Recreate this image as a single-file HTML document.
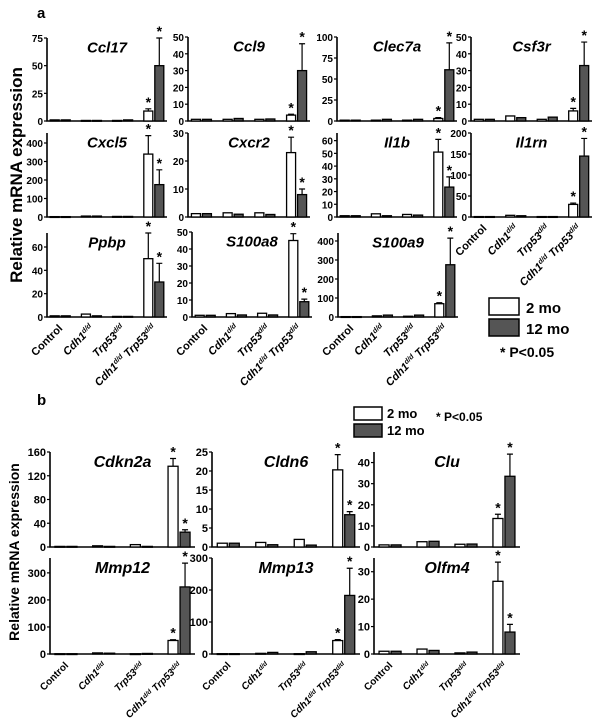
<!DOCTYPE html>
<html><head><meta charset="utf-8">
<style>
html,body{margin:0;padding:0;background:#fff;}
svg{display:block;font-family:"Liberation Sans",Arial,sans-serif;}
</style></head>
<body>
<svg id="fig" width="602" height="721" viewBox="0 0 602 721" xmlns="http://www.w3.org/2000/svg"></svg>
<script>
// ---- data ----
const groups = ["Control","Cdh1","Trp53","Cdh1 Trp53"];
const genesA = ["Ccl17","Ccl9","Clec7a","Csf3r","Cxcl5","Cxcr2","Il1b","Il1rn","Ppbp","S100a8","S100a9"];
const valsA2  = [[1,0.5,0.5,9],[1,1,1,3.5],[1,1,1,3],[1,3,1,6],[2,5,3,340],[1.2,1.5,1.5,23],[1,2.5,2,51],[1,4,1,30],[1,2.5,0.5,50],[1,2,2.2,45],[2,6,4,70]];
const valsA12 = [[1,0.5,1,50],[1,1.5,1.2,30],[1,2,2,61],[1,2,2.3,33],[2,5,3,175],[1.2,1,0.9,8],[1,1,1.5,23.5],[1,3,1,145],[1,1,0.5,30],[1,1.2,1.2,9],[2,10,10,275]];
const errA2  = [2,0.5,1,1.5,100,5.5,10,3,22,4,5];
const errA12 = [25,16,32,14,80,2,8,42,16,1.5,140];
const maxA   = [75,50,100,50,454,30,66,200,72,50,442];
const ticksA = [[0,25,50,75],[0,10,20,30,40,50],[0,25,50,75,100],[0,10,20,30,40,50],[0,100,200,300,400],[0,10,20,30],[0,10,20,30,40,50,60],[0,50,100,150,200],[0,20,40,60],[0,10,20,30,40,50],[0,100,200,300,400]];

const genesB = ["Cdkn2a","Cldn6","Clu","Mmp12","Mmp13","Olfm4"];
const valsB2  = [[1,2,4,136],[1,1.2,2,20.3],[1,2.5,1.3,13.5],[1,4,1,50],[1,2,1,42],[1,1.8,0.4,26.5]];
const valsB12 = [[1,1,1,25],[1,0.6,0.5,8.5],[1,2.7,1.4,33.5],[1,3,2,248],[1,5,7,183],[1,1.3,0.7,8]];
const errB2  = [13,4,2,3,3,7];
const errB12 = [4,0.8,10.5,88,85,2.8];
const maxB   = [160,25,45,355,300,35];
const ticksB = [[0,40,80,120,160],[0,5,10,15,20,25],[0,10,20,30,40],[0,100,200,300],[0,100,200,300],[0,10,20,30]];

// ---- geometry ----
const geomA = [[47,167,38,121],[188,310,37,121],[337,457,37,121],[471,592,37,121],
               [47,167,133,217],[188,310,133,217],[337,457,133,217],[471,592,133,217],
               [47,167,233,317],[192,312,232,317],[338,458,233,317]];
const geomB = [[50,195,452,547],[212,360,452,547],[374,520,452,547],
               [50,195,558,654],[212,360,558,654],[374,520,558,654]];
const xlabA = [7,8,9,10];
const xlabB = [3,4,5];

const NS="http://www.w3.org/2000/svg";
const svg=document.getElementById('fig');
function mk(tag,attrs,parent){const e=document.createElementNS(NS,tag);for(const k in attrs)e.setAttribute(k,attrs[k]);(parent||svg).appendChild(e);return e;}

function panel(name,g,v2,v12,e2,e12,ymax,ticks,bw,fs,titleFs){
  const [x0,x1,yt,yb]=g;const W=x1-x0;
  const gEl=mk('g',{});
  
  
  const y=v=>yb-(v/ymax)*(yb-yt);
  const cx=i=>x0+W*(0.11+i*0.26);
  const ax=mk('path',{d:`M${x0},${yt}V${yb}H${x1}`,stroke:'#000','stroke-width':1.6,fill:'none'},gEl);
   
  ticks.forEach(t=>{
    mk('line',{x1:x0-3,x2:x0,y1:y(t),y2:y(t),stroke:'#000','stroke-width':1.2},gEl);
    const tx=mk('text',{x:x0-4,y:y(t)+4,'text-anchor':'end','font-size':fs,'font-weight':'bold'},gEl);
    tx.textContent=t;
     
  });
  const tt=mk('text',{x:x0+W*0.5,y:yt+titleFs*0.95,'text-anchor':'middle','font-size':titleFs,'font-weight':'bold','font-style':'italic'},gEl);
  tt.textContent=name;
   
  for(let i=0;i<4;i++){
    [[v2[i],'#fff',-1],[v12[i],'#555',1]].forEach(([v,fill,side],k)=>{
      const bx=side<0?cx(i)-bw-1:cx(i)+1;
      const r=mk('rect',{x:bx,y:y(v),width:bw,height:Math.max(yb-y(v),0.8),fill:fill,stroke:'#000','stroke-width':1.3},gEl);
       
      if(i===3){
        const er=k?e12:e2;const mx=bx+bw/2;
        mk('path',{d:`M${mx},${y(v)}V${y(v+er)}M${mx-3},${y(v+er)}H${mx+3}`,stroke:'#000','stroke-width':1.2,fill:'none'},gEl);
        const s=mk('text',{x:mx,y:y(v+er)-2,'text-anchor':'middle','font-size':14,'font-weight':'bold'},gEl);
        s.textContent='*';
         
      }
    });
  }
  return {cx,yb};
}
function xlabels(p,fs){
  const defs=[[['Control','n']],[['Cdh1','i'],['d/d','s']],[['Trp53','i'],['d/d','s']],[['Cdh1','i'],['d/d','s'],[' Trp53','i'],['d/d','s']]];
  defs.forEach((parts,i)=>{
    const x=p.cx(i)+3,yy=p.yb+12;
    const t=mk('text',{transform:`translate(${x},${yy}) rotate(-45)`,'text-anchor':'end','font-size':fs,'font-weight':'bold'});
     
    parts.forEach(([s,st])=>{
      const sp=mk('tspan',{},t);
      if(st==='i')sp.setAttribute('font-style','italic');
      if(st==='s'){sp.setAttribute('font-size',fs*0.65);sp.setAttribute('baseline-shift','super');sp.setAttribute('font-style','italic');}
      sp.textContent=s;
    });
  });
}
genesA.forEach((n,i)=>{
  const p=panel(n,geomA[i],valsA2[i],valsA12[i],errA2[i],errA12[i],maxA[i],ticksA[i],9,10,15);
  if(xlabA.includes(i)) xlabels(p,11);
});
genesB.forEach((n,i)=>{
  const p=panel(n,geomB[i],valsB2[i],valsB12[i],errB2[i],errB12[i],maxB[i],ticksB[i],10,11,16);
  if(xlabB.includes(i)) xlabels(p,10);
});
</script>
<script>
(function(){
const NS="http://www.w3.org/2000/svg";const svg=document.getElementById('fig');
function mk(tag,attrs){const e=document.createElementNS(NS,tag);for(const k in attrs)e.setAttribute(k,attrs[k]);svg.appendChild(e);return e;}
let t;
t=mk('text',{x:37,y:18,'font-size':15,'font-weight':'bold'});t.textContent='a';


t=mk('text',{x:37,y:405,'font-size':15,'font-weight':'bold'});t.textContent='b';


t=mk('text',{transform:'translate(22,175) rotate(-90)','text-anchor':'middle','font-size':17,'font-weight':'bold'});t.textContent='Relative mRNA expression';


t=mk('text',{transform:'translate(19,552) rotate(-90)','text-anchor':'middle','font-size':14,'font-weight':'bold'});t.textContent='Relative mRNA expression';


// legend a
let r=mk('rect',{x:489,y:298,width:30,height:17,fill:'#fff',stroke:'#000','stroke-width':1.5});


r=mk('rect',{x:489,y:319,width:30,height:17,fill:'#555',stroke:'#000','stroke-width':1.5});


t=mk('text',{x:526,y:313,'font-size':15,'font-weight':'bold'});t.textContent='2 mo';


t=mk('text',{x:526,y:334,'font-size':15,'font-weight':'bold'});t.textContent='12 mo';


t=mk('text',{x:500,y:357,'font-size':14,'font-weight':'bold'});t.textContent='* P<0.05';


// legend b
r=mk('rect',{x:354,y:407,width:28,height:13,fill:'#fff',stroke:'#000','stroke-width':1.5});


r=mk('rect',{x:354,y:424,width:28,height:13,fill:'#555',stroke:'#000','stroke-width':1.5});


t=mk('text',{x:387,y:418,'font-size':13,'font-weight':'bold'});t.textContent='2 mo';


t=mk('text',{x:387,y:435,'font-size':13,'font-weight':'bold'});t.textContent='12 mo';


t=mk('text',{x:436,y:421,'font-size':12,'font-weight':'bold'});t.textContent='* P<0.05';


})();
</script>
</body></html>
